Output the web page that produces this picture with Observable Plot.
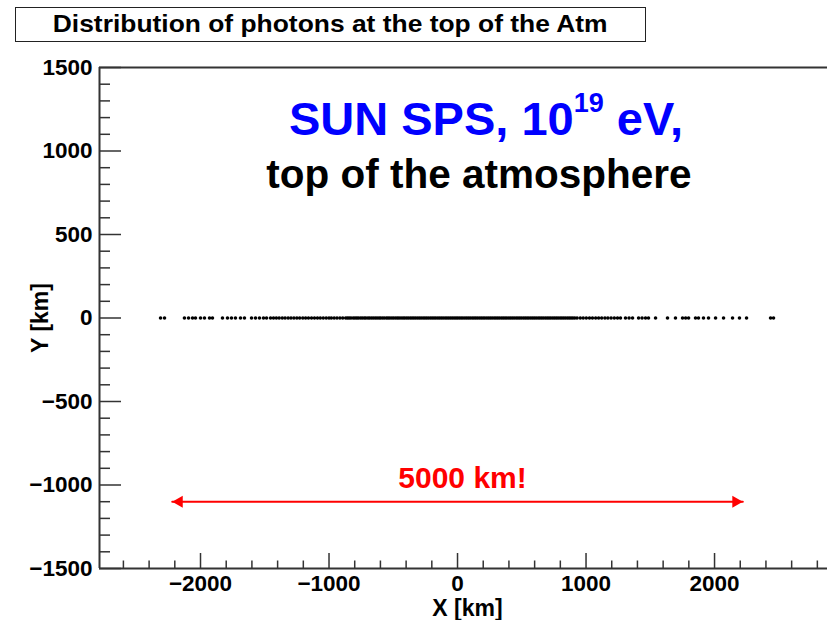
<!DOCTYPE html>
<html>
<head>
<meta charset="utf-8">
<script src="https://cdn.jsdelivr.net/npm/d3@7"></script>
<script src="https://cdn.jsdelivr.net/npm/@observablehq/plot@0.6"></script>
<style>
  html, body { margin: 0; padding: 0; background: #fff; }
  #wrap { position: relative; width: 827px; height: 620px; overflow: hidden; font-family: "Liberation Sans", Arial, Helvetica, sans-serif; font-weight: bold; }
  #title { position: absolute; left: 15px; top: 7px; width: 631px; height: 35px; box-sizing: border-box; border: 1.5px solid #222; background: #fff; text-align: center; font-size: 24px; line-height: 31px; white-space: nowrap; z-index: 2; }
  #title span { display: inline-block; transform: scaleX(1.1); transform-origin: center; }
  #sun { position: absolute; left: 0; top: 95px; width: 972px; text-align: center; font-size: 47px; line-height: 47px; color: #0000ff; white-space: nowrap; z-index: 2; }
  #sun .sup { font-size: 27px; position: relative; top: -23px; line-height: 0; }
</style>
</head>
<body>
<div id="wrap">
  <div id="title"><span>Distribution of photons at the top of the Atm</span></div>
  <div id="sun">SUN SPS, 10<span class="sup">19</span> eV,</div>
</div>
<script>
// ---- data ----
const xDomain = [-2786, 2879];
const yDomain = [-1500, 1500];
const xMajorTicks = [-2000, -1000, 0, 1000, 2000];
const xMinorTicks = [-2600, -2400, -2200, -1800, -1600, -1400, -1200, -800, -600, -400, -200, 200, 400, 600, 800, 1200, 1400, 1600, 1800, 2200, 2400, 2600, 2800];
const yMajorTicks = [-1500, -1000, -500, 0, 500, 1000, 1500];
const yMinorTicks = [-1400, -1300, -1200, -1100, -900, -800, -700, -600, -400, -300, -200, -100, 100, 200, 300, 400, 600, 700, 800, 900, 1100, 1200, 1300, 1400];

// photon X positions at the top of the atmosphere [km]; all photons have Y = 0
const photonLeftTail = [-2311, -2280, -2125, -2093, -2062, -2039, -2000, -1969, -1930, -1907, -1829, -1790, -1759, -1728, -1689, -1658, -1603, -1572, -1541, -1510, -1486];
const photonLeftShoulder = [-1455, -1432, -1410, -1388, -1364, -1342, -1318, -1296, -1273, -1250, -1228, -1204, -1182, -1160, -1136, -1113, -1090, -1068, -1045, -1022, -1000, -982, -960, -938, -915, -893];
const photonCore = [-870, -856, -843, -829, -812, -798, -784, -771, -755, -741, -726, -713, -697, -684, -669, -655, -640, -626, -611, -598, -583, -569, -553, -540, -526, -511, -497, -482, -468, -455, -440, -425, -412, -397, -383, -368, -354, -340, -326, -311, -297, -283, -268, -254, -240, -226, -211, -197, -183, -169, -154, -140, -126, -112, -97, -83, -69, -55, -41, -27, -13, 0, 14, 28, 42, 57, 71, 85, 99, 114, 128, 142, 156, 171, 185, 199, 213, 228, 242, 256, 270, 285, 299, 313, 327, 342, 356, 370, 384, 399, 413, 427, 441, 456, 470, 484, 498, 513, 527, 541, 555, 570, 584, 598, 612, 627, 641, 655, 669, 684, 698, 712, 726, 741, 755, 769, 783, 798, 812, 826, 840, 855, 869, 883, 897, 912];
const photonRightShoulder = [930, 955, 978, 1002, 1027, 1050, 1075, 1098, 1122, 1147, 1170, 1195, 1220, 1245, 1268];
const photonRightTail = [1307, 1335, 1362, 1409, 1436, 1463, 1486, 1541, 1634, 1696, 1751, 1775, 1798, 1852, 1875, 1914, 1953, 2008, 2070, 2140, 2194, 2249, 2436, 2459];
const photonY = 0;

const arrowX = [-2220, 2220];
const arrowY = -1100;
const arrowLabel = "5000 km!";
const arrowLabelPos = [39, -1020];
const subLabel = "top of the atmosphere";
const subLabelPos = [167, 780];

const photonX = [...photonLeftTail, ...photonLeftShoulder, ...photonCore, ...photonRightShoulder, ...photonRightTail];

const fmt = d => (d < 0 ? "\u2212" + Math.abs(d) : String(d));
const axisColor = "#333";

const chart = Plot.plot({
  width: 827,
  height: 620,
  marginTop: 67,
  marginBottom: 52,
  marginLeft: 99,
  marginRight: 0,
  x: {domain: xDomain},
  y: {domain: yDomain},
  style: {fontFamily: "'Liberation Sans', Arial, Helvetica, sans-serif", fontWeight: "bold", fontSize: "22px", color: "#000", background: "transparent", overflow: "visible"},
  marks: [
    // frame lines (top, bottom, left)
    Plot.ruleY(yDomain, {stroke: axisColor, strokeWidth: 2}),
    Plot.ruleX([xDomain[0]], {stroke: axisColor, strokeWidth: 2}),
    // Y axis ticks (inward) and labels
    Plot.axisY({anchor: "left", ticks: yMajorTicks, tickSize: -22, tickPadding: 29, tickFormat: fmt, label: null, stroke: axisColor, strokeWidth: 1.5, fontSize: 22.5}),
    Plot.axisY({anchor: "left", ticks: yMinorTicks, tickSize: -11, tickFormat: () => "", label: null, stroke: axisColor, strokeWidth: 1.5}),
    // X axis ticks (inward) and labels
    Plot.axisX({anchor: "bottom", ticks: xMajorTicks, tickSize: -15, tickPadding: 22, tickFormat: fmt, label: null, stroke: axisColor, strokeWidth: 1.5, fontSize: 22.5}),
    Plot.axisX({anchor: "bottom", ticks: xMinorTicks, tickSize: -7.5, tickFormat: () => "", label: null, stroke: axisColor, strokeWidth: 1.5}),
    // axis titles
    Plot.text(["Y [km]"], {frameAnchor: "left", textAnchor: "middle", lineAnchor: "middle", rotate: -90, dx: -59, fontSize: 23, fill: "#000"}),
    Plot.text(["X [km]"], {frameAnchor: "bottom", textAnchor: "middle", lineAnchor: "bottom", dy: 47, dx: 4, fontSize: 23, fill: "#000"}),
    // photons
    Plot.dot(photonX, {x: d => d, y: () => photonY, r: 1.8, fill: "#000", stroke: null}),
    // annotations
    Plot.text([subLabel], {x: () => subLabelPos[0], y: () => subLabelPos[1], lineAnchor: "bottom", fontSize: 40.5, fill: "#000"}),
    Plot.text([arrowLabel], {x: () => arrowLabelPos[0], y: () => arrowLabelPos[1], lineAnchor: "bottom", fontSize: 30, fill: "#ff0000"}),
    Plot.line(arrowX, {x: d => d, y: () => arrowY, stroke: "#ff0000", strokeWidth: 2}),
    Plot.dot([arrowX[0]], {x: d => d, y: () => arrowY, symbol: "triangle", rotate: -90, r: 4.5, dx: 7, fill: "#ff0000", stroke: null}),
    Plot.dot([arrowX[1]], {x: d => d, y: () => arrowY, symbol: "triangle", rotate: 90, r: 4.5, dx: -7, fill: "#ff0000", stroke: null})
  ]
});
chart.style.position = "absolute";
chart.style.left = "0";
chart.style.top = "0";
document.getElementById("wrap").prepend(chart);
</script>
</body>
</html>
